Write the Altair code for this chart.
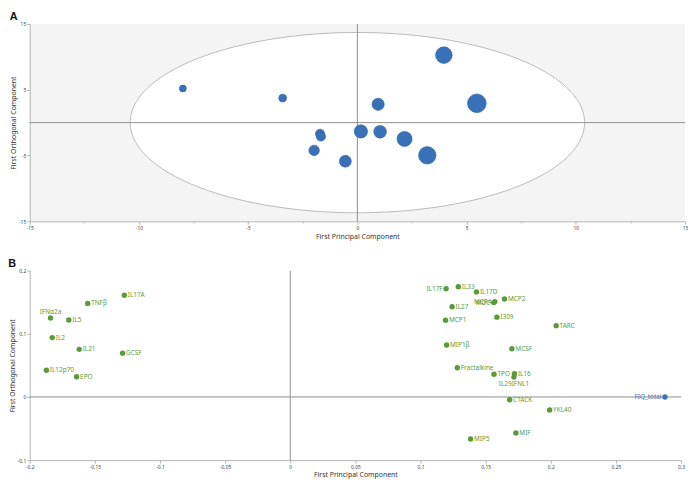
import altair as alt
import numpy as np
import pandas as pd

# ---------------- Panel A data (scores) ----------------
score_pc = [-7.99, -3.42, -1.71, -1.67, -1.98, -0.55, 3.96, 5.47, 0.95, 0.16, 1.04, 2.16, 3.20]
score_orth = [5.18, 3.73, -1.69, -2.10, -4.22, -5.87, 10.25, 2.94, 2.79, -1.34, -1.39, -2.48, -4.97]
score_size = [4.0, 4.5, 5.2, 5.3, 6.0, 6.8, 9.5, 10.7, 7.0, 7.6, 7.3, 8.6, 10.0]

# confidence ellipse semi-axes
ellipse_a = 10.4
ellipse_b = 13.7

# ---------------- Panel B data (loadings) ----------------
load_names = ["IL17A", "TNFβ", "IFNα2a", "IL5", "IL2", "IL21", "GCSF", "IL12p70", "EPO",
              "IL17F", "IL33", "IL17D", "MCP2", "MDC", "MCP4", "IL27", "MCP1", "I309", "TARC",
              "MIP1β", "MCSF", "Fractalkine", "TPO", "IL16", "IL29IFNL1", "CTACK", "YKL40",
              "MIF", "MIP5", "FIQ_total"]
load_pc = [-0.1274, -0.1555, -0.184, -0.170, -0.1827, -0.162, -0.1287, -0.1872, -0.164,
           0.1196, 0.129, 0.1429, 0.1644, 0.1562, 0.1570, 0.1242, 0.1192, 0.1586, 0.2041,
           0.120, 0.1701, 0.1282, 0.1564, 0.1721, 0.1717, 0.1684, 0.1991,
           0.1732, 0.1384, 0.2876]
load_orth = [0.161, 0.148, 0.125, 0.122, 0.094, 0.0754, 0.0694, 0.0424, 0.032,
             0.1714, 0.1744, 0.1664, 0.155, 0.1495, 0.151, 0.1429, 0.1214, 0.1264, 0.1129,
             0.0824, 0.0764, 0.0464, 0.036, 0.0369, 0.0315, -0.0045, -0.0205,
             -0.057, -0.0666, 0.0]
load_group = ["cytokine"] * 29 + ["outcome"]

labels_left = ["IL17F", "MDC", "MCP4", "FIQ_total"]
labels_top = ["IFNα2a"]
labels_bottom = ["IL29IFNL1"]

# axis tick values
a_ticks = [-15, -12.5, -10, -7.5, -5, -2.5, 0, 2.5, 5, 7.5, 10, 12.5, 15]
bx_ticks = [-0.2, -0.175, -0.15, -0.125, -0.1, -0.075, -0.05, -0.025, 0, 0.025, 0.05, 0.075,
            0.1, 0.125, 0.15, 0.175, 0.2, 0.225, 0.25, 0.275, 0.3]
by_ticks = [-0.1, -0.075, -0.05, -0.025, 0, 0.025, 0.05, 0.075, 0.1, 0.125, 0.15, 0.175, 0.2]

FONT = "Noto Sans"
AX_COL = "#b4b4b4"
BLUE = "#3871b8"
GREEN = "#5b9a3c"
GREEN_TXT = "#5a8a3a"

scores = pd.DataFrame({"pc": score_pc, "orth": score_orth, "s": score_size})
t = np.linspace(0, np.pi, 241)
ell = pd.DataFrame({"x": ellipse_a * np.cos(t), "y": ellipse_b * np.sin(t)})
ell["y2"] = -ell["y"]
zero = pd.DataFrame({"v": [0]})
loads = pd.DataFrame({"name": load_names, "pc": load_pc, "orth": load_orth, "grp": load_group})


def axis_a(title):
    return alt.Axis(
        title=title, values=a_ticks, grid=False,
        labelExpr="datum.value % 5 === 0 ? (datum.value < 0 ? '-' : '') + abs(datum.value) : ''",
        tickSize={"condition": {"test": "datum.value % 5 === 0", "value": 3}, "value": 1.5},
        labelFontSize=5, labelColor="#444", labelFont=FONT, labelPadding=1,
        titleFontSize=7, titleFont=FONT, titleFontWeight="normal", titleColor="#333", titlePadding=2,
        domainColor=AX_COL, tickColor=AX_COL, labelFlush=False,
    )


MAJOR_B = "abs(datum.value * 20 - round(datum.value * 20)) < 1e-6"


def axis_b(title, vals):
    return alt.Axis(
        title=title, values=vals, grid=False,
        labelExpr=MAJOR_B + " ? (datum.value < 0 ? '-' : '') + replace('' + abs(round(datum.value * 1000) / 1000), '.', ',') : ''",
        tickSize={"condition": {"test": MAJOR_B, "value": 3}, "value": 1.5},
        labelFontSize=5, labelColor="#444", labelFont=FONT, labelPadding=1,
        titleFontSize=7, titleFont=FONT, titleFontWeight="normal", titleColor="#333", titlePadding=2,
        domainColor=AX_COL, tickColor=AX_COL, labelFlush=False,
    )


xa = alt.Scale(domain=[-15, 15], nice=False, zero=False)
ya = alt.Scale(domain=[-15, 15], nice=False, zero=False)

ellipse = alt.Chart(ell).mark_area(fill="white", stroke="#a8a8a8", strokeWidth=0.8).encode(
    x=alt.X("x:Q", scale=xa, axis=axis_a("First Principal Component")),
    y=alt.Y("y:Q", scale=ya, axis=axis_a("First Orthogonal Component")),
    y2="y2:Q",
)
hz_a = alt.Chart(zero).mark_rule(color="#8f8f8f", strokeWidth=1).encode(y=alt.Y("v:Q", scale=ya))
vt_a = alt.Chart(zero).mark_rule(color="#8f8f8f", strokeWidth=1).encode(x=alt.X("v:Q", scale=xa))
bubbles = alt.Chart(scores).mark_circle(color=BLUE, opacity=1, stroke="#2d62a3", strokeWidth=0.6).encode(
    x=alt.X("pc:Q", scale=xa),
    y=alt.Y("orth:Q", scale=ya),
    size=alt.Size("s:Q", scale=alt.Scale(type="pow", exponent=2, domain=[0, 10], range=[0, 314]), legend=None),
)

panel_a = alt.layer(ellipse, hz_a, vt_a, bubbles).properties(
    width=664, height=200,
    view=alt.ViewBackground(fill="#f4f4f4", strokeWidth=0),
    title=alt.TitleParams("A", anchor="start", fontSize=11, fontWeight="bold", font="Liberation Sans",
                          offset=0, color="#111"),
)

xb = alt.Scale(domain=[-0.2, 0.3], nice=False, zero=False)
yb = alt.Scale(domain=[-0.1, 0.2], nice=False, zero=False)

pts = alt.Chart(loads).mark_circle(opacity=1, size=30).encode(
    x=alt.X("pc:Q", scale=xb, axis=axis_b("First Principal Component", bx_ticks)),
    y=alt.Y("orth:Q", scale=yb, axis=axis_b("First Orthogonal Component", by_ticks)),
    color=alt.Color("grp:N", scale=alt.Scale(domain=["cytokine", "outcome"], range=[GREEN, BLUE]), legend=None),
)
hz_b = alt.Chart(zero).mark_rule(color="#8f8f8f", strokeWidth=1).encode(y=alt.Y("v:Q", scale=yb))
vt_b = alt.Chart(zero).mark_rule(color="#8f8f8f", strokeWidth=1).encode(x=alt.X("v:Q", scale=xb))

special = labels_left + labels_top + labels_bottom
txt_common = dict(fontSize=6.5, font=FONT)
lbl_color = alt.Color("grp:N", scale=alt.Scale(domain=["cytokine", "outcome"], range=[GREEN_TXT, "#3a6aa8"]), legend=None)

txt_right = alt.Chart(loads).transform_filter(
    {"not": alt.FieldOneOfPredicate(field="name", oneOf=special)}
).mark_text(align="left", baseline="middle", dx=3.5, **txt_common).encode(
    x=alt.X("pc:Q", scale=xb), y=alt.Y("orth:Q", scale=yb), text="name:N", color=lbl_color)
txt_left = alt.Chart(loads).transform_filter(
    alt.FieldOneOfPredicate(field="name", oneOf=labels_left)
).mark_text(align="right", baseline="middle", dx=-3.5, **txt_common).encode(
    x=alt.X("pc:Q", scale=xb), y=alt.Y("orth:Q", scale=yb), text="name:N", color=lbl_color)
txt_top = alt.Chart(loads).transform_filter(
    alt.FieldOneOfPredicate(field="name", oneOf=labels_top)
).mark_text(align="center", baseline="bottom", dy=-3.5, **txt_common).encode(
    x=alt.X("pc:Q", scale=xb), y=alt.Y("orth:Q", scale=yb), text="name:N", color=lbl_color)
txt_bottom = alt.Chart(loads).transform_filter(
    alt.FieldOneOfPredicate(field="name", oneOf=labels_bottom)
).mark_text(align="center", baseline="top", dy=4.5, **txt_common).encode(
    x=alt.X("pc:Q", scale=xb), y=alt.Y("orth:Q", scale=yb), text="name:N", color=lbl_color)

panel_b = alt.layer(hz_b, vt_b, pts, txt_right, txt_left, txt_top, txt_bottom).properties(
    width=660, height=192,
    title=alt.TitleParams("B", anchor="start", fontSize=11, fontWeight="bold", font="Liberation Sans",
                          offset=0, color="#111"),
)

chart = alt.vconcat(panel_a, panel_b, spacing=19).properties(
    padding={"left": 0, "right": 0, "top": 0, "bottom": 0}
).configure_view(strokeWidth=0).resolve_scale(x="independent", y="independent")

chart.save("out.html", embed_options={"renderer": "svg", "actions": False})
